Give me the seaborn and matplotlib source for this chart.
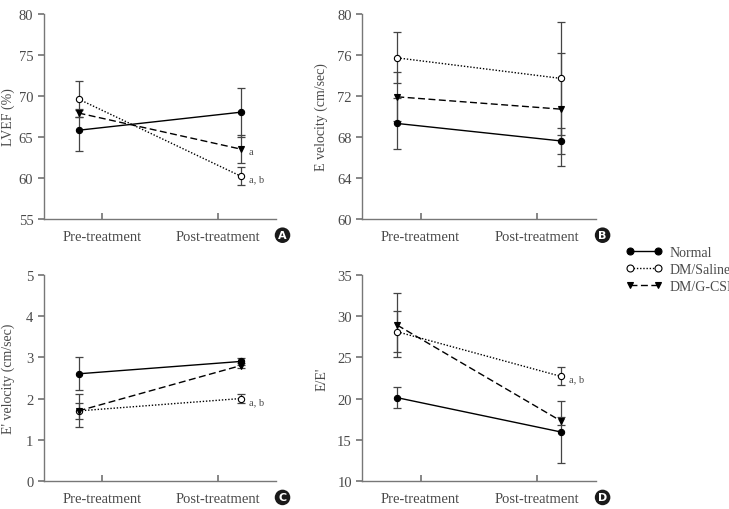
import numpy as np
import pandas as pd
import matplotlib
matplotlib.use("Agg")
import matplotlib.pyplot as plt
import seaborn as sns
from matplotlib.lines import Line2D

# Data (rows: Normal, DM/Saline, DM/G-CSF; columns: Pre, Post)
stages = ["Pre-treatment", "Post-treatment"]
groups = ["Normal", "DM/Saline", "DM/G-CSF"]

lvef_mean = [[65.8, 68.0], [69.6, 60.2], [67.9, 63.5]]
lvef_err = [[2.5, 3.0], [2.2, 1.1], [0.5, 1.7]]

evel_mean = [[69.3, 67.6], [75.7, 73.7], [71.9, 70.7]]
evel_err = [[2.5, 1.3], [2.5, 5.5], [2.4, 5.5]]

eprime_mean = [[2.6, 2.9], [1.7, 2.0], [1.7, 2.8]]
eprime_err = [[0.4, 0.08], [0.2, 0.12], [0.4, 0.07]]

ee_mean = [[20.1, 15.95], [28.1, 22.7], [28.9, 17.3]]
ee_err = [[1.3, 3.8], [2.5, 1.1], [3.9, 0.5]]

# significance labels next to the post-treatment points
lvef_sig = {"DM/Saline": "a, b", "DM/G-CSF": "a"}
eprime_sig = {"DM/Saline": "a, b"}
ee_sig = {"DM/Saline": "a, b"}

panels = [
    ("A", "LVEF (%)", lvef_mean, lvef_err, (55, 80), np.arange(55, 81, 5), lvef_sig, -0.125),
    ("B", "E velocity (cm/sec)", evel_mean, evel_err, (60, 80), np.arange(60, 81, 4), {}, -0.145),
    ("C", "E' velocity (cm/sec)", eprime_mean, eprime_err, (0, 5), np.arange(0, 6, 1), eprime_sig, -0.125),
    ("D", "E/E'", ee_mean, ee_err, (10, 35), np.arange(10, 36, 5), ee_sig, -0.145),
]

# points sit a little outside the category ticks
spread = 0.2
x_pts = np.arange(len(stages)) + np.array([-spread, spread])

styles = {
    "Normal": dict(marker="o", markerfacecolor="black", linestyle="-"),
    "DM/Saline": dict(marker="o", markerfacecolor="white", linestyle=(0, (1, 1.3))),
    "DM/G-CSF": dict(marker="v", markerfacecolor="black", linestyle=(0, (5, 2.5))),
}

sns.set_theme(style="ticks")
plt.rcParams["font.family"] = ["Liberation Serif", "DejaVu Serif"]
text_col = "#4a4a4a"
spine_col = "#777777"

fig = plt.figure(figsize=(7.29, 5.10), dpi=100)
ax_pos = {
    "A": [0.060, 0.569, 0.318, 0.402],
    "B": [0.497, 0.569, 0.320, 0.402],
    "C": [0.060, 0.055, 0.318, 0.404],
    "D": [0.497, 0.055, 0.320, 0.404],
}

for letter, ylabel, means, errs, ylim, yticks, sig, lab_x in panels:
    ax = fig.add_axes(ax_pos[letter])
    rows = []
    for gi, g in enumerate(groups):
        for si, s in enumerate(stages):
            rows.append({"group": g, "stage": s, "x": x_pts[si],
                         "value": means[gi][si], "err": errs[gi][si]})
    df = pd.DataFrame(rows)

    for g in groups:
        sub = df[df["group"] == g]
        ax.errorbar(sub["x"], sub["value"], yerr=sub["err"], fmt="none",
                    ecolor="#444444", elinewidth=0.9, capsize=3, capthick=0.9, zorder=1)
        sns.lineplot(data=sub, x="x", y="value", ax=ax, color="black", linewidth=1.0,
                     markersize=4.5, markeredgecolor="black", markeredgewidth=0.8,
                     legend=False, zorder=3, **styles[g])
        if g in sig:
            post = sub[sub["stage"] == stages[1]].iloc[0]
            ax.annotate(sig[g], (post["x"], post["value"]), xytext=(6, -2),
                        textcoords="offset points", fontsize=7.5, color=text_col,
                        va="center", ha="left")

    ax.set_xlim(-0.5, 1.5)
    ax.set_ylim(*ylim)
    ax.set_yticks(yticks)
    ax.set_xticks(range(len(stages)))
    ax.set_xticklabels(stages)
    ax.set_xlabel("")
    ax.set_ylabel(ylabel, fontsize=10, color=text_col)
    ax.yaxis.set_label_coords(lab_x, 0.5)
    ax.tick_params(axis="x", direction="in", length=4, colors=spine_col,
                   labelcolor=text_col, labelsize=10.5, pad=8)
    ax.tick_params(axis="y", direction="out", length=4, colors=spine_col,
                   labelcolor=text_col, labelsize=10.5)
    sns.despine(ax=ax)
    for sp in ["left", "bottom"]:
        ax.spines[sp].set_color(spine_col)
        ax.spines[sp].set_linewidth(1.0)

    ax.text(1.03, -0.08, letter, transform=ax.transAxes, ha="center", va="center",
            fontsize=8, fontweight="bold", color="white", family="DejaVu Sans",
            bbox=dict(boxstyle="circle,pad=0.25", facecolor="#1a1a1a", edgecolor="none"))

handles = [
    Line2D([0], [0], color="black", lw=1.0, markersize=5, markeredgecolor="black",
           markeredgewidth=0.8, **styles[g])
    for g in groups
]
fig.legend(handles, groups, loc="upper left", bbox_to_anchor=(0.842, 0.54),
           frameon=False, numpoints=2, handlelength=2.6, handletextpad=0.5,
           labelspacing=0.28, fontsize=10, labelcolor=text_col)

fig.savefig("out.png", dpi=100)
